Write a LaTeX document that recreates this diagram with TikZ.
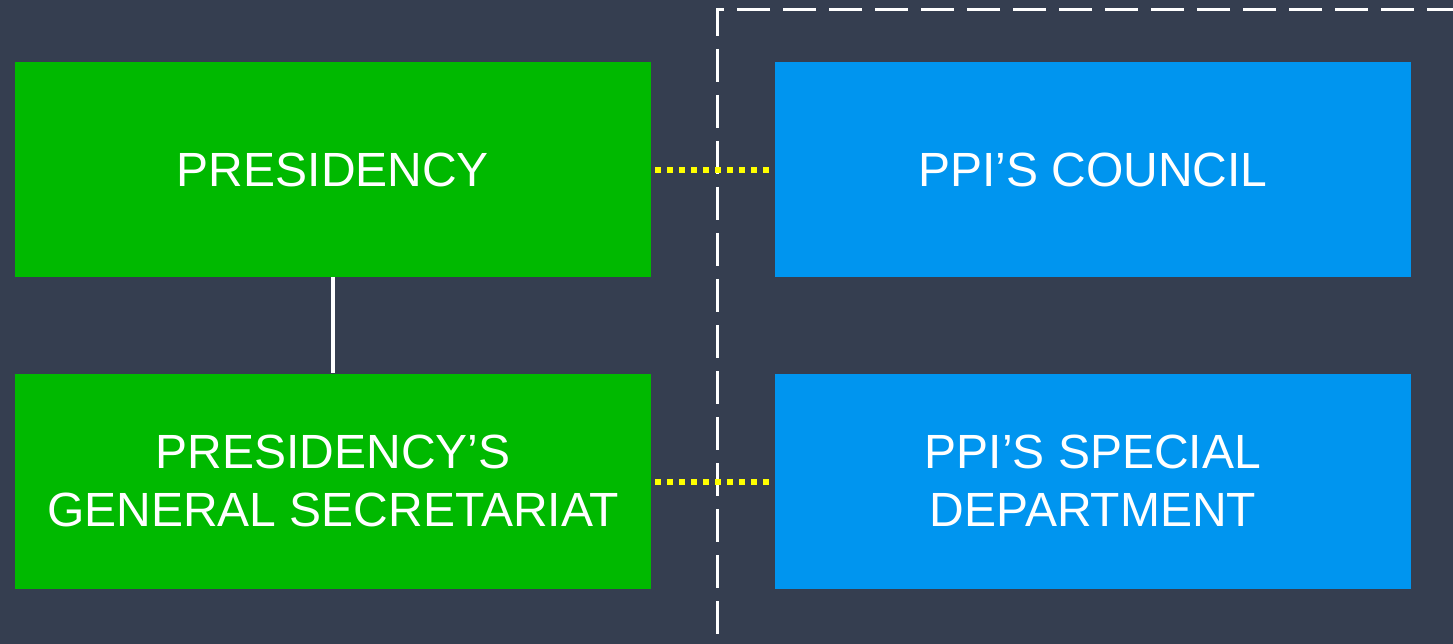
\documentclass[tikz,border=0pt]{standalone}
\usepackage{fontspec}
\setmainfont{Liberation Sans}
\definecolor{bgc}{RGB}{53,62,80}
\definecolor{grn}{RGB}{0,185,0}
\definecolor{blu}{RGB}{0,149,239}
\definecolor{ylw}{RGB}{255,255,0}
\begin{document}
\begin{tikzpicture}[x=1pt,y=-1pt,
  box/.style={minimum width=636pt,minimum height=215pt,inner sep=0pt,text=white,align=center,
    font=\fontsize{48}{58}\selectfont},
  gbox/.style={box,fill=grn},
  bbox/.style={box,fill=blu},
  dotline/.style={ylw,line width=6pt,dash pattern=on 6pt off 6pt},
  solidline/.style={white,line width=4pt}]
\fill[bgc] (0,0) rectangle (1453,644);
\useasboundingbox (0,0) rectangle (1453,644);
\begin{scope}
\clip (0,0) rectangle (1453,644);
\draw[white,line width=3pt,dash pattern=on 33pt off 13pt] (1460,10) -- (717,10) -- (717,645.5) -- (1460,645.5);
\end{scope}
\node[gbox] (pres) at (333,169.5) {PRESIDENCY};
\node[gbox] (sec) at (333,481) {PRESIDENCY’S\\GENERAL SECRETARIAT};
\node[bbox] (council) at (1093,169.5) {PPI’S COUNCIL};
\node[bbox] (dept) at (1093,481) {PPI’S SPECIAL\\DEPARTMENT};
\draw[solidline] (pres.south) -- (sec.north);
\draw[dotline] ([xshift=4pt,yshift=-1pt]pres.east) -- ([xshift=-2pt,yshift=-1pt]council.west);
\draw[dotline] ([xshift=4pt,yshift=-1pt]sec.east) -- ([xshift=-2pt,yshift=-1pt]dept.west);
\end{tikzpicture}
\end{document}
